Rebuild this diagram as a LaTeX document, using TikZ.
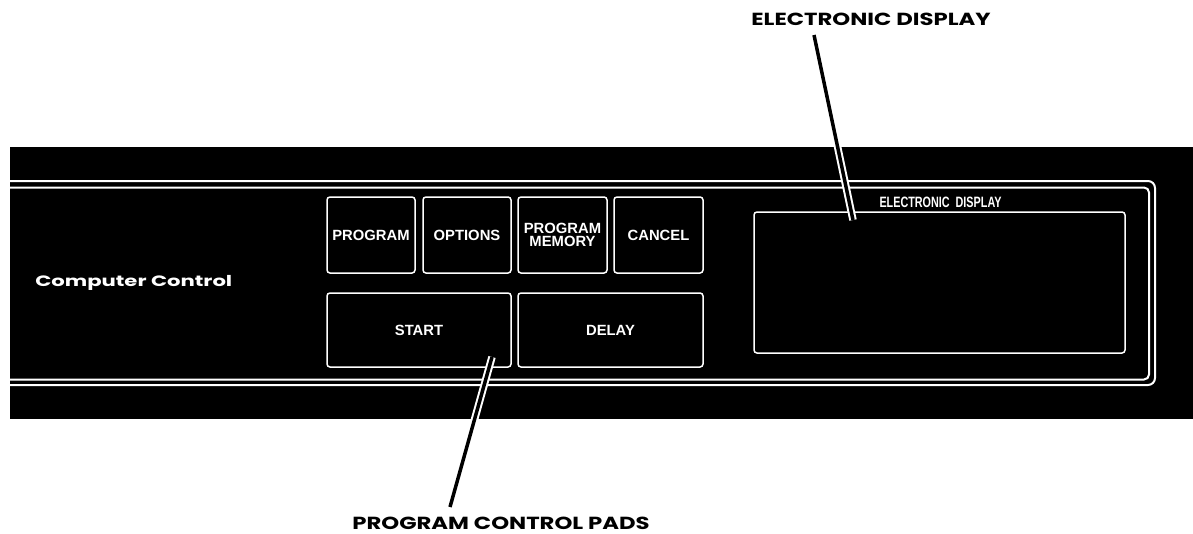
\documentclass[tikz,border=0pt]{standalone}
\usepackage{fontspec}
\setmainfont{Liberation Sans}
\newfontfamily\geo{Poppins}
\begin{document}
\begin{tikzpicture}[x=1pt,y=-1pt,
  pad/.style={draw=white,line width=1.5pt,rounded corners=3pt,inner sep=0pt,outer sep=0pt,
    text=white,font=\fontsize{14.8}{12.5}\selectfont\bfseries,align=center},
  frame/.style={draw=white,line width=2pt},
  leader/.style={draw=white,line width=2pt,double=black,double distance=3.5pt,line cap=butt},
  callout/.style={font=\geo\bfseries\fontsize{17.5}{17.5}\selectfont,inner sep=0pt,anchor=base,xscale=1.3,text depth=0pt}
]
\useasboundingbox (0,0) rectangle (1193,533);
\fill[white] (0,0) rectangle (1193,533);
% panel
\fill[black] (10,147) rectangle (1193,419);
% double frame open to the left
\draw[frame,rounded corners=7pt] (10,181) -- (1155,181) -- (1155,385) -- (10,385);
\draw[frame,rounded corners=5pt] (10,187.5) -- (1149,187.5) -- (1149,379.5) -- (10,379.5);
% brand
\node[anchor=west,text=white,inner sep=0pt,font=\geo\bfseries\fontsize{15}{15}\selectfont,xscale=1.41] (brand) at (35,283) {Computer Control};
% pads
\node[pad,minimum width=88pt,minimum height=76pt] (prog) at (371,235) {PROGRAM};
\node[pad,minimum width=88pt,minimum height=76pt] (opt) at (467,235) {OPTIONS};
\node[pad,minimum width=89pt,minimum height=76pt] (mem) at (562.5,235) {PROGRAM\\MEMORY};
\node[pad,minimum width=89pt,minimum height=76pt] (cancel) at (658.5,235) {CANCEL};
\node[pad,minimum width=184pt,minimum height=74pt] (start) at (419,330) {START};
\node[pad,minimum width=185pt,minimum height=74pt] (delay) at (610.5,330) {DELAY};
% display
\node[draw=white,line width=1.5pt,rounded corners=3pt,inner sep=0pt,minimum width=371pt,minimum height=141pt] (disp) at (939.5,282.5) {};
\node[text=white,inner sep=0pt,font=\bfseries\fontsize{15}{15}\selectfont,xscale=0.72] (displabel) at (940.5,202.5) {ELECTRONIC\ \ DISPLAY};
% callouts
\node[callout] (edlabel) at (871,25) {ELECTRONIC DISPLAY};
\node[callout] (pcplabel) at (501,529) {PROGRAM CONTROL PADS};
\coordinate (edtop) at (814,35);
\coordinate (edend) at (853,220);
\coordinate (pcpbot) at (450,507);
\coordinate (pcpend) at (492,357);
\draw[leader] (edtop) -- (edend);
\draw[leader] (pcpbot) -- (pcpend);
\end{tikzpicture}
\end{document}
